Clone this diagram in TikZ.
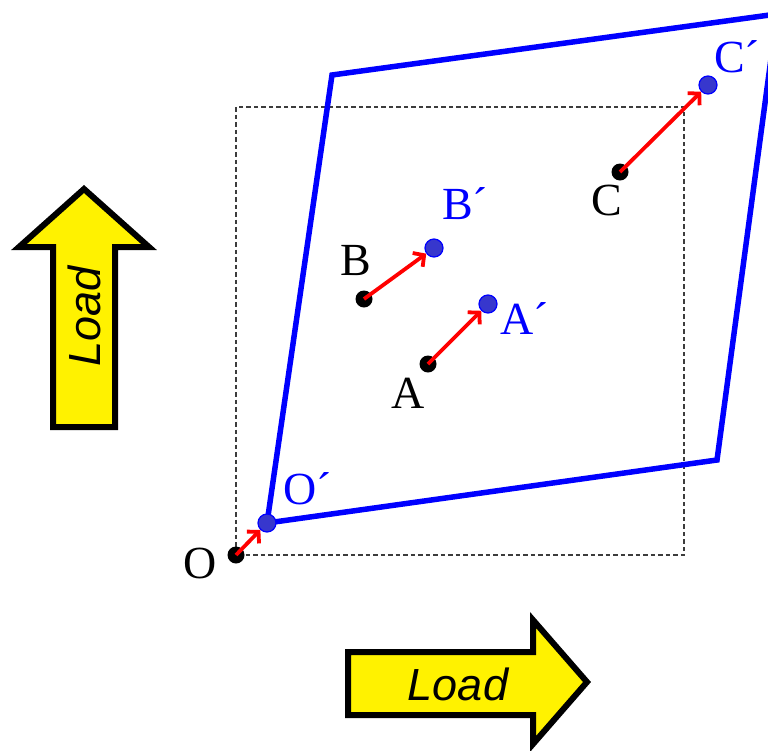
\documentclass[tikz,border=0pt]{standalone}
\usepackage{fontspec}
\setmainfont{Liberation Serif}
\newfontfamily\loadfont{Liberation Sans}
\usetikzlibrary{arrows.meta}
\definecolor{dotblue}{RGB}{55,55,205}
\definecolor{dashgray}{RGB}{60,60,60}
\tikzset{
  bdot/.style={circle,fill=black,inner sep=0pt,minimum size=17pt},
  pdot/.style={circle,fill=dotblue,draw=blue,line width=1.2pt,inner sep=0pt,minimum size=18pt},
  disp/.style={red,line width=3.8pt,-{Straight Barb[length=8pt,width=17pt,line width=3.8pt]}},
  lbl/.style={font=\fontsize{46}{50}\selectfont,inner sep=0pt,anchor=base},
  plbl/.style={lbl,text=blue,anchor=base west},
  frame/.style={blue,line width=5.5pt,line join=miter},
  guide/.style={dashgray,line width=1.3pt,dash pattern=on 4.5pt off 3pt},
  loadarrow/.style={fill=yellow,draw=black,line width=6pt,line join=miter},
  loadtext/.style={font=\loadfont\itshape\fontsize{45}{50}\selectfont,inner sep=0pt}
}
\begin{document}
\begin{tikzpicture}[x=1pt,y=-1pt]
\useasboundingbox (0,0) rectangle (768,750);
\clip (0,0) rectangle (768,750);
% dashed original square
\draw[guide] (236,107) rectangle (684,555);
% deformed shape
\coordinate (P1) at (332,75);
\coordinate (P2) at (777,14);
\coordinate (P3) at (717,460);
\coordinate (P0) at (267,523);
\draw[frame] (P0) -- (P1) -- (P2) -- (P3) -- cycle;
% original points
\node[bdot] (O) at (236,555) {};
\node[bdot] (A) at (428,364) {};
\node[bdot] (B) at (364,299) {};
\node[bdot] (C) at (620,172) {};
% displaced points
\node[pdot] (Op) at (267,523) {};
\node[pdot] (Ap) at (488,304) {};
\node[pdot] (Bp) at (434,248) {};
\node[pdot] (Cp) at (708,85) {};
% displacement arrows
\draw[disp] (O.center) -- (Op);
\draw[disp] (A.center) -- (Ap);
\draw[disp] (B.center) -- (Bp);
\draw[disp] (C.center) -- (Cp);
% labels
\node[lbl] (Ol) at (200,578) {O};
\node[lbl] (Al) at (408,408) {A};
\node[lbl] (Bl) at (356,275) {B};
\node[lbl] (Cl) at (607,215) {C};
\node[plbl] (Opl) at (283,504) {O´};
\node[plbl] (Apl) at (500,334) {A´};
\node[plbl] (Bpl) at (442,219) {B´};
\node[plbl] (Cpl) at (714,72) {C´};
% load arrows
\draw[loadarrow] (53,427) -- (53,247) -- (19,247) -- (84,189) -- (149,247) -- (115,247) -- (115,427) -- cycle;
\node[loadtext,rotate=90] (Lup) at (84,316) {Load};
\draw[loadarrow] (348,652) -- (533,652) -- (533,620) -- (587,682) -- (533,744) -- (533,715) -- (348,715) -- cycle;
\node[loadtext,anchor=base] (Lright) at (458,700) {Load};
\end{tikzpicture}
\end{document}
